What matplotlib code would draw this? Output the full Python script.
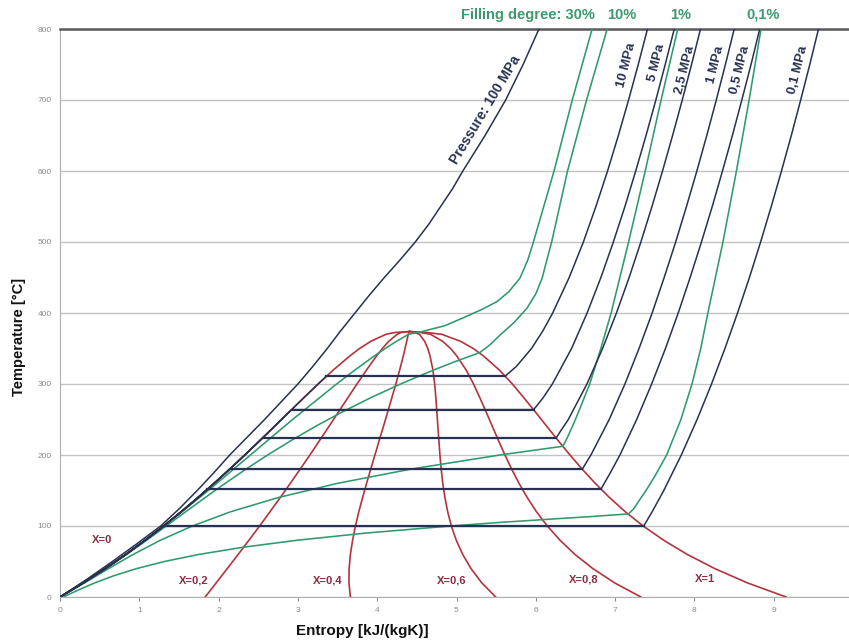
import matplotlib
matplotlib.use("Agg")
import matplotlib.pyplot as plt

plt.rcParams['font.family'] = ['Liberation Sans', 'DejaVu Sans']

# ---------------- saturation dome (T in degC, s in kJ/(kgK)) ----------------
T_sat = [0.01, 20, 40, 60, 80, 100, 120, 140, 160, 180, 200, 220, 240, 260,
         280, 300, 320, 340, 350, 360, 370, 372.5, 373.95]
s_x0 = [0.0, 0.2965, 0.5724, 0.8312, 1.0754, 1.3072, 1.5279, 1.7392, 1.9426,
        2.1392, 2.3305, 2.5177, 2.7020, 2.8849, 3.0685, 3.2552, 3.4494, 3.6601,
        3.7784, 3.9167, 4.1112, 4.22, 4.407]
s_x02 = [1.831, 1.970, 2.109, 2.247, 2.383, 2.517, 2.648, 2.777, 2.904, 3.028,
         3.151, 3.271, 3.390, 3.508, 3.626, 3.745, 3.867, 3.995, 4.065, 4.144,
         4.252, 4.302, 4.407]
s_x04 = [3.662, 3.644, 3.646, 3.662, 3.690, 3.726, 3.768, 3.816, 3.866, 3.918,
         3.971, 4.024, 4.078, 4.131, 4.183, 4.235, 4.284, 4.330, 4.351, 4.372,
         4.392, 4.398, 4.407]
s_x06 = [5.494, 5.318, 5.183, 5.078, 4.997, 4.935, 4.889, 4.854, 4.827, 4.807,
         4.791, 4.778, 4.765, 4.753, 4.740, 4.725, 4.702, 4.665, 4.638, 4.599,
         4.533, 4.466, 4.407]
s_x08 = [7.325, 6.992, 6.720, 6.493, 6.305, 6.145, 6.009, 5.892, 5.789, 5.696,
         5.611, 5.531, 5.453, 5.376, 5.297, 5.215, 5.120, 5.000, 4.925, 4.827,
         4.673, 4.548, 4.407]
s_x1 = [9.156, 8.666, 8.257, 7.909, 7.612, 7.354, 7.129, 6.930, 6.750, 6.585,
        6.431, 6.284, 6.141, 5.999, 5.854, 5.705, 5.537, 5.335, 5.211, 5.054,
        4.814, 4.63, 4.407]

# ---------------- isobars ----------------
# liquid branch (along saturated liquid), then evaporation, then superheated vapour
p01_T = [0.01, 20, 40, 60, 80, 99.6, 99.6, 120, 150, 200, 250, 300, 350, 400, 450, 500, 550, 600, 650, 700, 750, 800]
p01_s = [0.0, 0.2965, 0.5724, 0.8312, 1.0754, 1.303, 7.359, 7.467, 7.614, 7.835, 8.034, 8.216, 8.385, 8.544, 8.694, 8.835, 8.969, 9.098, 9.222, 9.340, 9.455, 9.565]

p05_T = [0.01, 20, 40, 60, 80, 100, 120, 140, 151.8, 151.8, 175, 200, 250, 300, 350, 400, 450, 500, 550, 600, 650, 700, 750, 800]
p05_s = [0.0, 0.2965, 0.5724, 0.8312, 1.0754, 1.3072, 1.5279, 1.7392, 1.860, 6.821, 6.940, 7.061, 7.272, 7.461, 7.635, 7.796, 7.946, 8.089, 8.225, 8.354, 8.479, 8.598, 8.714, 8.824]

p1_T = [0.01, 20, 40, 60, 80, 100, 120, 140, 160, 179.9, 179.9, 200, 250, 300, 350, 400, 450, 500, 550, 600, 650, 700, 750, 800]
p1_s = [0.0, 0.2965, 0.5724, 0.8312, 1.0754, 1.3072, 1.5279, 1.7392, 1.9426, 2.138, 6.585, 6.695, 6.926, 7.124, 7.302, 7.467, 7.619, 7.764, 7.900, 8.031, 8.156, 8.276, 8.391, 8.502]

p25_T = [0.01, 20, 40, 60, 80, 100, 120, 140, 160, 180, 200, 224.0, 224.0, 235, 250, 300, 350, 400, 450, 500, 550, 600, 650, 700, 750, 800]
p25_s = [0.0, 0.2965, 0.5724, 0.8312, 1.0754, 1.3072, 1.5279, 1.7392, 1.9426, 2.1392, 2.3305, 2.554, 6.257, 6.320, 6.410, 6.645, 6.842, 7.017, 7.177, 7.325, 7.465, 7.598, 7.725, 7.847, 7.964, 8.077]

p5_T = [0.01, 20, 40, 60, 80, 100, 120, 140, 160, 180, 200, 220, 240, 263.9, 263.9, 280, 300, 350, 400, 450, 500, 550, 600, 650, 700, 750, 800]
p5_s = [0.0, 0.2965, 0.5724, 0.8312, 1.0754, 1.3072, 1.5279, 1.7392, 1.9426, 2.1392, 2.3305, 2.5177, 2.7020, 2.921, 5.973, 6.088, 6.209, 6.451, 6.647, 6.821, 6.978, 7.124, 7.260, 7.390, 7.514, 7.632, 7.746]

p10_T = [0.01, 20, 40, 60, 80, 100, 120, 140, 160, 180, 200, 220, 240, 260, 280, 300, 311.0, 311.0, 325, 350, 375, 400, 450, 500, 550, 600, 650, 700, 750, 800]
p10_s = [0.0, 0.2965, 0.5724, 0.8312, 1.0754, 1.3072, 1.5279, 1.7392, 1.9426, 2.1392, 2.3305, 2.5177, 2.7020, 2.8849, 3.0685, 3.2552, 3.360, 5.614, 5.757, 5.946, 6.090, 6.213, 6.421, 6.600, 6.758, 6.905, 7.041, 7.170, 7.292, 7.408]

p100_T = [0.01, 25, 50, 75, 100, 125, 150, 175, 200, 225, 250, 275, 300, 325, 350, 375, 400, 425, 450, 475, 500, 525, 550, 575, 600, 650, 700, 750, 800]
p100_s = [0.0, 0.34, 0.66, 0.97, 1.27, 1.51, 1.73, 1.94, 2.14, 2.36, 2.58, 2.79, 3.00, 3.19, 3.37, 3.54, 3.72, 3.90, 4.09, 4.29, 4.48, 4.65, 4.80, 4.95, 5.08, 5.36, 5.62, 5.84, 6.04]

# evaporation lines (saturation temperature, s liquid, s vapour)
evap_T = [99.6, 151.8, 179.9, 224.0, 263.9, 311.0]
evap_sl = [1.303, 1.860, 2.138, 2.554, 2.921, 3.360]
evap_sv = [7.359, 6.821, 6.585, 6.257, 5.973, 5.614]

# ---------------- filling degree lines (isochores) ----------------
f30_T = [0.01, 50, 100, 150, 200, 250, 300, 320, 340, 350, 360, 370, 373.5, 382, 393, 405, 416, 430, 449, 475, 500, 550, 600, 650, 700, 750, 800]
f30_s = [0.0, 0.705, 1.315, 1.870, 2.401, 2.933, 3.488, 3.723, 3.970, 4.101, 4.240, 4.397, 4.55, 4.85, 5.08, 5.32, 5.51, 5.66, 5.80, 5.90, 5.97, 6.10, 6.23, 6.345, 6.46, 6.585, 6.71]

f10_T = [0.01, 20, 40, 60, 80, 100, 120, 140, 160, 180, 200, 220, 240, 260, 280, 300, 320, 330, 340, 344, 355, 369, 387, 407, 427, 449, 475, 500, 550, 600, 650, 700, 750, 800]
f10_s = [0.0, 0.298, 0.576, 0.840, 1.093, 1.340, 1.584, 1.830, 2.082, 2.344, 2.618, 2.909, 3.217, 3.549, 3.906, 4.294, 4.718, 4.946, 5.189, 5.29, 5.42, 5.55, 5.73, 5.89, 6.00, 6.08, 6.14, 6.20, 6.30, 6.40, 6.52, 6.64, 6.77, 6.90]

f1_T = [0.01, 20, 40, 60, 80, 100, 120, 140, 160, 180, 200, 212.3, 225, 250, 300, 350, 400, 500, 600, 700, 800]
f1_s = [0.004, 0.311, 0.612, 0.924, 1.267, 1.669, 2.150, 2.750, 3.497, 4.418, 5.546, 6.342, 6.40, 6.50, 6.68, 6.82, 6.95, 7.17, 7.38, 7.58, 7.79]

f01_T = [0.01, 10, 20, 30, 40, 50, 60, 70, 80, 90, 100, 105, 110, 113, 117, 125, 137, 150, 170, 200, 250, 300, 350, 400, 500, 600, 700, 800]
f01_s = [0.044, 0.233, 0.441, 0.680, 0.966, 1.316, 1.754, 2.304, 2.995, 3.854, 4.923, 5.543, 6.232, 6.658, 7.17, 7.24, 7.31, 7.39, 7.50, 7.65, 7.83, 7.97, 8.08, 8.17, 8.36, 8.53, 8.69, 8.84]

# ---------------- labels ----------------
x_ticks = [0, 1, 2, 3, 4, 5, 6, 7, 8, 9, 10]
x_ticklabels = ["0", "1", "2", "3", "4", "5", "6", "7", "8", "9", ""]
y_ticks = [0, 100, 200, 300, 400, 500, 600, 700, 800]
quality_labels = ["X=0", "X=0,2", "X=0,4", "X=0,6", "X=0,8", "X=1"]
quality_pos = [(0.53, 80), (1.68, 23), (3.37, 23), (4.94, 23), (6.60, 25), (8.13, 25)]
pressure_labels = ["10 MPa", "5 MPa", "2,5 MPa", "1 MPa", "0,5 MPa", "0,1 MPa"]
pressure_pos = [(7.15, 749), (7.53, 752), (7.88, 742), (8.27, 749), (8.58, 742), (9.31, 742)]
fill_labels = ["10%", "1%", "0,1%"]
fill_pos = [7.09, 7.83, 8.87]

RED = '#b3343e'
NAVY = '#283250'
GREEN = '#2f9a6c'
LBL_GREEN = '#3c9a6e'
MAROON = '#8a2e40'

fig = plt.figure(figsize=(8.49, 6.40), dpi=100)
ax = fig.add_axes([60 / 849, 43 / 640, 793 / 849, 568 / 640])
ax.set_xlim(0, 10)
ax.set_ylim(0, 800)
ax.set_xticks(x_ticks)
ax.set_xticklabels(x_ticklabels)
ax.set_yticks(y_ticks)
ax.tick_params(axis='both', labelsize=6, colors='#8a8a8a')
ax.tick_params(axis='y', length=0, pad=6)
ax.tick_params(axis='x', length=3, width=0.8, pad=4)
ax.yaxis.grid(True, color='#c2c2c2', lw=1.0)
ax.set_axisbelow(True)
for side in ['left', 'bottom']:
    ax.spines[side].set_color('#b0b0b0')
ax.spines['right'].set_visible(False)
ax.spines['top'].set_color('#5a5a5a')
ax.spines['top'].set_linewidth(1.8)

# quality lines and dome
for s in [s_x0, s_x02, s_x04, s_x06, s_x08, s_x1]:
    ax.plot(s, T_sat, color=RED, lw=1.2, zorder=3)

# isochores
for s, T in [(f30_s, f30_T), (f10_s, f10_T), (f1_s, f1_T), (f01_s, f01_T)]:
    ax.plot(s, T, color=GREEN, lw=1.15, zorder=4)

# isobars
for s, T in [(p01_s, p01_T), (p05_s, p05_T), (p1_s, p1_T), (p25_s, p25_T),
             (p5_s, p5_T), (p10_s, p10_T), (p100_s, p100_T)]:
    ax.plot(s, T, color=NAVY, lw=1.1, zorder=5)
for T, sl, sv in zip(evap_T, evap_sl, evap_sv):
    ax.plot([sl, sv], [T, T], color=NAVY, lw=1.6, zorder=5)

# text labels
for lab, (x, y) in zip(quality_labels, quality_pos):
    ax.text(x, y, lab, color=MAROON, fontsize=8, fontweight='bold',
            ha='center', va='center', zorder=6)
ax.text(5.36, 686, "Pressure: 100 MPa", color=NAVY, fontsize=10,
        fontweight='bold', rotation=59, ha='center', va='center',
        rotation_mode='anchor', zorder=6)
for lab, (x, y) in zip(pressure_labels, pressure_pos):
    ax.text(x, y, lab, color=NAVY, fontsize=9.5, fontweight='bold',
            rotation=76, ha='center', va='center', rotation_mode='anchor', zorder=6)
ax.text(6.75, 820, "Filling degree: 30%", color=LBL_GREEN, fontsize=10.5,
        fontweight='bold', ha='right', va='center', clip_on=False)
for lab, x in zip(fill_labels, fill_pos):
    ax.text(x, 820, lab, color=LBL_GREEN, fontsize=10.5, fontweight='bold',
            ha='center', va='center', clip_on=False)

fig.text(362 / 849, 1 - 631 / 640, "Entropy [kJ/(kgK)]", fontsize=11,
         fontweight='bold', ha='center', va='center', color='#111111')
fig.text(19 / 849, 1 - 337 / 640, "Temperature [°C]", fontsize=10.5,
         fontweight='bold', ha='center', va='center', rotation=90, color='#111111')

fig.savefig("out.png", dpi=100)
